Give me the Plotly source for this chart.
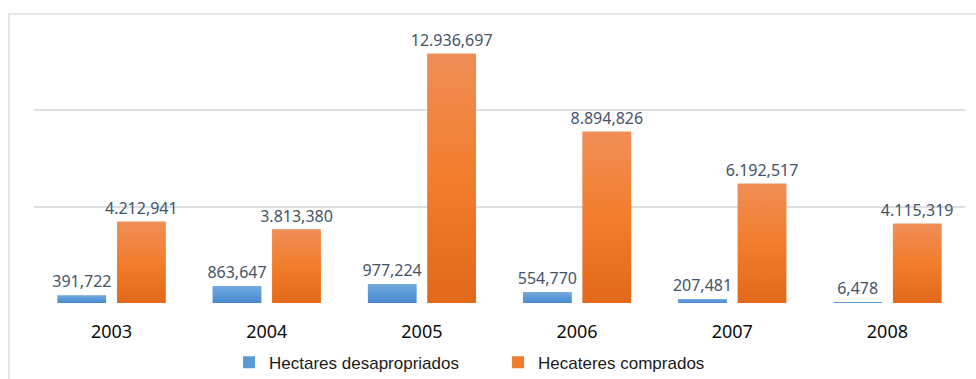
import plotly.graph_objects as go

# Hectares per year
years = ["2003", "2004", "2005", "2006", "2007", "2008"]
desapropriados = [391722, 863647, 977224, 554770, 207481, 6478]
comprados = [4212941, 3813380, 12936697, 8894826, 6192517, 4115319]


def fmt(v):
    s = f"{v:,}"
    if s.count(",") == 2:
        s = s.replace(",", ".", 1)
    return s


x_idx = list(range(len(years)))
bar_w = 0.3125
series = [
    dict(name="Hectares desapropriados", vals=desapropriados, offset=-0.348,
         color="#5b9bd5", scale=[[0, "#4788cf"], [0.5, "#5b9ad8"], [1, "#72a8df"]]),
    dict(name="Hecateres comprados", vals=comprados, offset=0.0355,
         color="#f07c2c", scale=[[0, "#e2681a"], [0.5, "#f27d2c"], [1, "#f08e57"]]),
]

fig = go.Figure()
for s in series:
    fig.add_trace(go.Bar(
        x=x_idx, y=s["vals"], name=s["name"],
        width=bar_w, offset=s["offset"],
        marker=dict(color=s["color"], line=dict(width=0)),
        text=[fmt(v) for v in s["vals"]],
        textposition="outside",
        constraintext="none",
        textfont=dict(family="Noto Sans", size=16, color="#44546a"),
        cliponaxis=False,
        hoverinfo="skip",
    ))

# vertical gradient fill laid over each bar
for s in series:
    for i, v in zip(x_idx, s["vals"]):
        x0 = i + s["offset"]
        x1 = x0 + bar_w
        fig.add_trace(go.Scatter(
            x=[x0, x1, x1, x0, x0], y=[0, 0, v, v, 0],
            mode="none", fill="toself",
            fillgradient=dict(type="vertical", colorscale=s["scale"], start=0, stop=v),
            showlegend=False, hoverinfo="skip",
        ))

fig.update_layout(
    width=976, height=379,
    margin=dict(l=34, r=11, t=14, b=76, autoexpand=False),
    paper_bgcolor="white", plot_bgcolor="white",
    barmode="overlay",
    showlegend=True,
    legend=dict(
        orientation="h", x=0.2095, xanchor="left", y=-0.207, yanchor="middle",
        font=dict(family="Liberation Sans", size=17, color="#1a1a1a"),
        itemwidth=30, entrywidth=224, traceorder="normal",
    ),
    xaxis=dict(
        range=[-0.5, 5.5], tickvals=x_idx, ticktext=years,
        showgrid=False, zeroline=False, showline=False, ticks="",
        ticklabelstandoff=16, automargin=False,
        tickfont=dict(family="Noto Sans", size=18, color="#0d0d0d"),
    ),
    yaxis=dict(
        range=[0, 15000000], dtick=5000000, showticklabels=False,
        showgrid=True, gridcolor="#dcdfe4", gridwidth=1.5,
        zeroline=False, showline=False, automargin=False,
    ),
    shapes=[
        dict(type="rect", xref="paper", yref="paper",
             x0=-25 / 931, x1=1.1, y0=-0.5, y1=1.0,
             line=dict(color="#dcdfe4", width=1.5), fillcolor="rgba(0,0,0,0)",
             layer="below"),
    ],
)

fig.write_html("out.html")
